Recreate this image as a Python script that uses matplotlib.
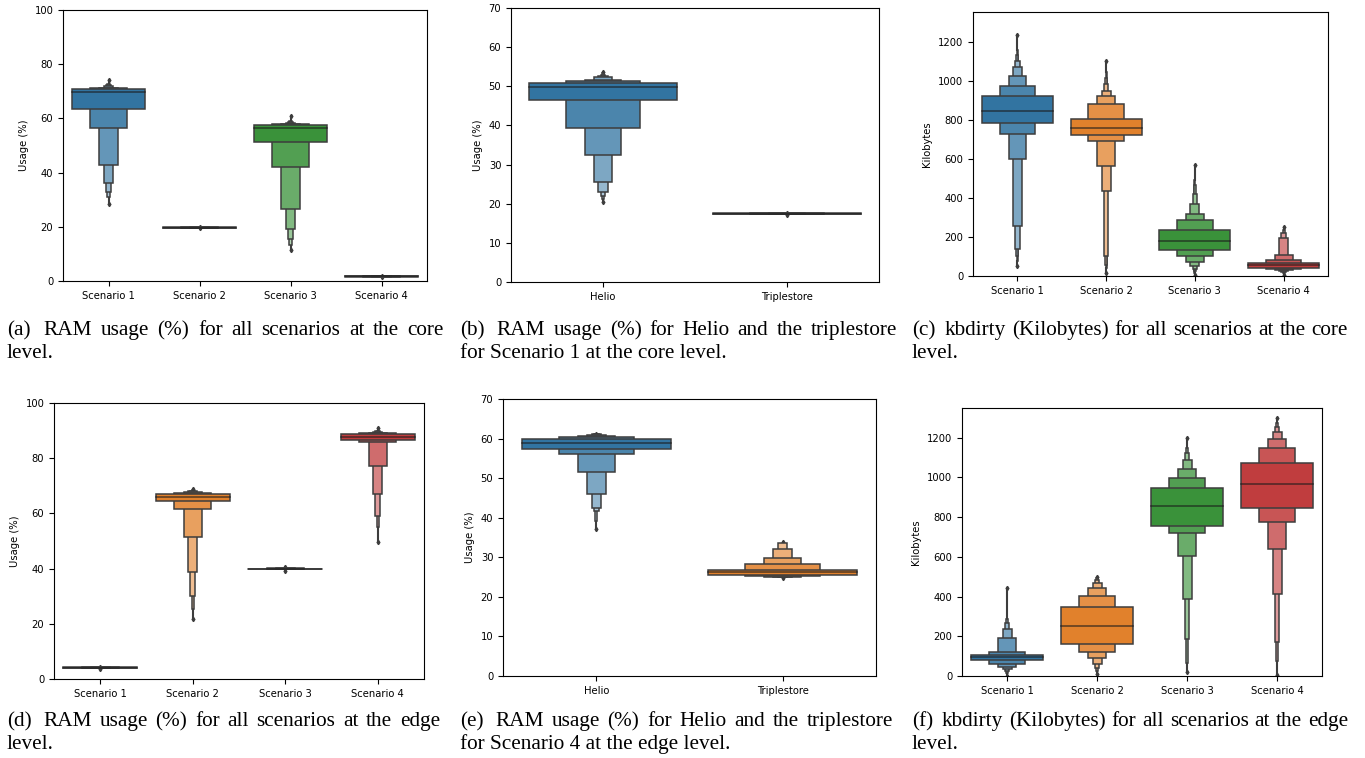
import numpy as np
import matplotlib
matplotlib.use("Agg")
import matplotlib.pyplot as plt
from matplotlib.colors import to_rgb

# ---- data (letter-value box ends, widest/IQR box first) ----
scen = ["Scenario 1", "Scenario 2", "Scenario 3", "Scenario 4"]
comp = ["Helio", "Triplestore"]

# (a) RAM usage core
a_lo = [[63.6, 56.5, 42.7, 36.0, 33.0, 31.1], [19.62, 19.55, 19.5], [51.4, 41.9, 26.7, 19.3, 15.4, 13.3], [1.62, 1.55, 1.5]]
a_hi = [[70.7, 71.1, 71.4, 71.8, 72.2, 72.6], [19.8, 19.85, 19.9], [57.4, 57.8, 58.1, 58.4, 58.8, 59.2], [1.8, 1.85, 1.9]]
a_med = [69.6, 19.7, 56.3, 1.7]
a_out_lo = [28.4, 19.4, 11.4, 1.4]
a_out_hi = [74.2, 20.1, 60.9, 2.0]

# (b) RAM usage Helio / triplestore, scenario 1 core
b_lo = [[46.6, 39.3, 32.5, 25.5, 23.0, 21.9, 21.2], [17.42, 17.38, 17.35]]
b_hi = [[50.9, 51.3, 51.6, 52.4, 52.7, 53.0, 53.3], [17.58, 17.6, 17.62]]
b_med = [49.9, 17.5]
b_out_lo = [20.4, 17.2]
b_out_hi = [53.7, 17.7]

# (c) kbdirty core
c_lo = [[784, 728, 600, 256, 140, 101, 75], [721, 692, 561, 436, 101, 55, 41],
        [133, 102, 72, 53, 36, 24, 15], [43, 36, 29, 24, 19, 15]]
c_hi = [[920, 971, 1023, 1069, 1101, 1132, 1157], [805, 880, 920, 949, 983, 1016, 1047],
        [235, 285, 320, 368, 419, 467, 493], [68, 82, 107, 196, 220, 237]]
c_med = [844, 757, 177, 58]
c_out_lo = [50, 15, 5, 5]
c_out_hi = [1235, 1100, 570, 250]

# (d) RAM usage edge
d_lo = [[4.02, 3.97, 3.92], [64.5, 61.7, 51.5, 38.7, 29.9, 25.2], [39.82, 39.77, 39.72], [86.7, 85.9, 77.3, 67.0, 58.9, 54.9]]
d_hi = [[4.2, 4.25, 4.3], [67.2, 67.5, 67.8, 68.0, 68.2, 68.4], [40.0, 40.05, 40.1], [88.6, 89.1, 89.3, 89.5, 89.7, 89.9]]
d_med = [4.1, 65.9, 39.9, 87.6]
d_out_lo = [3.8, 21.8, 39.3, 49.8]
d_out_hi = [4.4, 68.8, 40.4, 91.0]

# (e) RAM usage Helio / triplestore, scenario 4 edge
e_lo = [[57.4, 56.2, 51.6, 46.1, 42.5, 41.7, 39.1], [25.6, 25.3, 25.1, 25.0, 25.0]]
e_hi = [[59.9, 60.5, 60.7, 61.0, 61.05, 61.1, 61.1], [26.9, 28.3, 29.9, 32.2, 33.7]]
e_med = [59.0, 26.2]
e_out_lo = [37.2, 24.8]
e_out_hi = [61.2, 33.8]

# (f) kbdirty edge
f_lo = [[79, 62, 44, 35, 25, 15], [161, 123, 91, 62, 42, 24],
        [755, 718, 603, 387, 187, 66], [847, 775, 639, 415, 171, 76]]
f_hi = [[106, 123, 190, 239, 269, 289], [346, 405, 442, 467, 486, 496],
        [946, 995, 1042, 1087, 1123, 1146], [1074, 1146, 1195, 1229, 1255, 1276]]
f_med = [94, 254, 855, 966]
f_out_lo = [0, 10, 20, 5]
f_out_hi = [444, 500, 1200, 1300]

# seaborn-ish desaturated tab10 colors
pal = ["#3274a1", "#e1812c", "#3a923a", "#c03d3e"]
edge = "#3d3d3d"

W, H = 1365, 758
fig = plt.figure(figsize=(W / 100, H / 100), dpi=100)


def add_ax(l, r, t, b):
    return fig.add_axes([l / W, 1 - b / H, (r - l) / W, (b - t) / H])


def boxen(ax, cats, lo, hi, med, out_lo, out_hi, ylim, yticks, ylabel):
    for i, cat in enumerate(cats):
        base = np.array(to_rgb(pal[i]))
        light = base + 0.85 * (1 - base)
        n = len(lo[i])
        # outermost (narrowest) first, IQR box last so it sits on top
        for j in range(n - 1, -1, -1):
            t = min(j / 7, 1)
            col = base + t * (light - base)
            w = 0.8 * 0.5 ** j
            ax.bar(i, hi[i][j] - lo[i][j], width=w, bottom=lo[i][j],
                   color=col, edgecolor=edge, linewidth=1.1, zorder=2)
        # outliers
        ax.plot([i, i], [out_lo[i], lo[i][-1]], color=edge, lw=1.5, zorder=1.5)
        ax.plot([i, i], [hi[i][-1], out_hi[i]], color=edge, lw=1.5, zorder=1.5)
        ax.plot([i, i], [out_lo[i], out_hi[i]], ls="none", marker="d",
                ms=2.2, color=edge, zorder=1.5)
        ax.plot([i - 0.4, i + 0.4], [med[i], med[i]], color=".1", alpha=.7,
                lw=1.1, zorder=3)
    ax.set_xlim(-0.5, len(cats) - 0.5)
    ax.set_xticks(range(len(cats)))
    ax.set_xticklabels(cats)
    ax.set_ylim(*ylim)
    ax.set_yticks(yticks)
    ax.set_ylabel(ylabel, fontsize=7.2)
    ax.tick_params(labelsize=7.2, width=0.8, length=3.5)
    for s in ax.spines.values():
        s.set_linewidth(0.8)


ax = add_ax(63, 427, 10, 281)
boxen(ax, scen, a_lo, a_hi, a_med, a_out_lo, a_out_hi, (0, 100), range(0, 101, 20), "Usage (%)")
ax = add_ax(511, 879, 8, 282)
boxen(ax, comp, b_lo, b_hi, b_med, b_out_lo, b_out_hi, (0, 70), range(0, 71, 10), "Usage (%)")
ax = add_ax(973, 1328, 12, 276)
boxen(ax, scen, c_lo, c_hi, c_med, c_out_lo, c_out_hi, (0, 1352), range(0, 1201, 200), "Kilobytes")
ax = add_ax(54, 424, 403, 679)
boxen(ax, scen, d_lo, d_hi, d_med, d_out_lo, d_out_hi, (0, 100), range(0, 101, 20), "Usage (%)")
ax = add_ax(503, 876, 399, 676)
boxen(ax, comp, e_lo, e_hi, e_med, e_out_lo, e_out_hi, (0, 70), range(0, 71, 10), "Usage (%)")
ax = add_ax(962, 1322, 408, 676)
boxen(ax, scen, f_lo, f_hi, f_med, f_out_lo, f_out_hi, (0, 1350), range(0, 1201, 200), "Kilobytes")

# ---- captions (first line justified) ----
captions = [
    (7, 444, 335, "(a) RAM usage (%) for all scenarios at the core", "level."),
    (460, 897, 335, "(b) RAM usage (%) for Helio and the triplestore", "for Scenario 1 at the core level."),
    (912, 1348, 335, "(c) kbdirty (Kilobytes) for all scenarios at the core", "level."),
    (7, 440, 726, "(d) RAM usage (%) for all scenarios at the edge", "level."),
    (460, 893, 726, "(e) RAM usage (%) for Helio and the triplestore", "for Scenario 4 at the edge level."),
    (912, 1348, 726, "(f) kbdirty (Kilobytes) for all scenarios at the edge", "level."),
]
cap_font = dict(family="Liberation Serif", size=15.3, color="black", va="baseline")
renderer = fig.canvas.get_renderer()
for x0, x1, y, line1, line2 in captions:
    words = line1.split()
    texts = [fig.text(0, 1 - y / H, wd, **cap_font) for wd in words]
    widths = [t.get_window_extent(renderer).width for t in texts]
    weights = [1.5] + [1.0] * (len(words) - 2)
    gap = (x1 - x0 - sum(widths)) / sum(weights)
    x = x0
    for k, t in enumerate(texts):
        t.set_x(x / W)
        x += widths[k]
        if k < len(weights):
            x += gap * weights[k]
    fig.text(x0 / W, 1 - (y + 23) / H, line2, **cap_font)

fig.savefig("out.png", dpi=100)
